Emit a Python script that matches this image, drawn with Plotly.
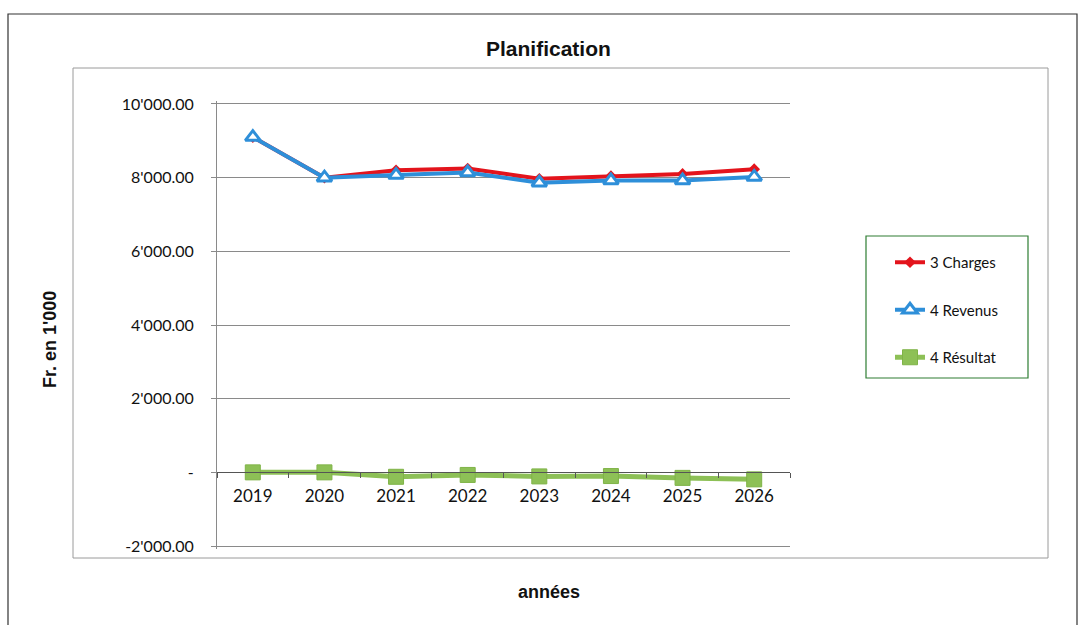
import plotly.graph_objects as go

years = ["2019", "2020", "2021", "2022", "2023", "2024", "2025", "2026"]
charges = [9100, 8000, 8200, 8245, 7970, 8040, 8100, 8230]
revenus = [9100, 8000, 8070, 8140, 7860, 7920, 7920, 8020]
resultat = [0, 0, -120, -70, -110, -100, -150, -190]

ytick_vals = [-2000, 0, 2000, 4000, 6000, 8000, 10000]
ytick_text = ["-2'000.00", "-", "2'000.00", "4'000.00", "6'000.00", "8'000.00", "10'000.00"]

W, H = 1079, 625
L, R, T, B = 217, 790, 101, 549  # plot area in pixels
YMIN, YMAX = -2080, 10080

def px(x):
    return (x - L) / (R - L)

def py(y):
    return (B - y) / (B - T)

fig = go.Figure()
fig.add_trace(go.Scatter(
    x=years, y=charges, name="3 Charges", mode="lines+markers",
    line=dict(color="#e3141c", width=4),
    marker=dict(symbol="diamond", size=9, color="#e3141c"),
    legendgroup="a",
))
fig.add_trace(go.Scatter(
    x=years, y=revenus, name="4 Revenus", mode="lines+markers",
    line=dict(color="#2e8fd9", width=4),
    marker=dict(symbol="triangle-up", size=13, color="white",
                line=dict(color="#2e8fd9", width=3)),
    legendgroup="b",
))
fig.add_trace(go.Scatter(
    x=years, y=resultat, name="4 Résultat", mode="lines+markers",
    line=dict(color="#8dc056", width=5),
    marker=dict(symbol="square", size=15, color="#8dc056",
                line=dict(color="#7fb347", width=1)),
    legendgroup="c",
))

shapes = [
    dict(type="rect", xref="paper", yref="paper",
         x0=px(8), x1=px(1077), y0=py(640), y1=py(14),
         line=dict(color="#333333", width=1.2), layer="below"),
    dict(type="rect", xref="paper", yref="paper",
         x0=px(73), x1=px(1048), y0=py(558), y1=py(68),
         line=dict(color="#9a9a9a", width=1), layer="below"),
    dict(type="rect", xref="paper", yref="paper",
         x0=px(866), x1=px(1028), y0=py(378), y1=py(236),
         line=dict(color="#2e7d32", width=1.2)),
]

annotations = [
    dict(text="<b>Planification</b>", xref="paper", yref="paper",
         x=px(548), y=py(49), xanchor="center", yanchor="middle", showarrow=False,
         font=dict(family="Liberation Sans", size=21, color="#111111")),
    dict(text="<b>Fr. en 1'000</b>", xref="paper", yref="paper",
         x=px(50), y=py(340), xanchor="center", yanchor="middle",
         showarrow=False, textangle=-90,
         font=dict(family="Liberation Sans", size=18, color="#111111")),
    dict(text="<b>années</b>", xref="paper", yref="paper",
         x=px(549), y=py(592), xanchor="center", yanchor="middle", showarrow=False,
         font=dict(family="Liberation Sans", size=18, color="#111111")),
]

fig.update_layout(
    width=W, height=H,
    margin=dict(l=L, r=W - R, t=T, b=H - B),
    paper_bgcolor="white", plot_bgcolor="white",
    showlegend=True,
    legend=dict(x=px(890), y=py(246), xanchor="left", yanchor="top",
                bgcolor="rgba(0,0,0,0)", borderwidth=0,
                tracegroupgap=25,
                font=dict(family="Lato", size=15, color="#111111")),
    shapes=shapes,
    annotations=annotations,
    font=dict(family="Lato", size=16, color="#111111"),
)

fig.update_yaxes(
    range=[YMIN, YMAX], tickvals=ytick_vals, ticktext=ytick_text,
    showgrid=True, gridcolor="#8a8a8a", gridwidth=1,
    showline=True, linecolor="#8a8a8a", linewidth=1,
    ticks="outside", ticklen=5, tickcolor="#8a8a8a",
    ticklabelstandoff=14,
    zeroline=False, domain=[0, 1],
    tickfont=dict(family="Lato", size=16, color="#111111"),
)
fig.update_xaxes(
    type="category", range=[-0.5, 7.5],
    anchor="free", position=(0 - YMIN) / (YMAX - YMIN),
    showline=True, linecolor="#555555", linewidth=1,
    ticks="outside", ticklen=5, tickcolor="#555555", tickson="boundaries",
    ticklabelstandoff=8,
    showgrid=False, zeroline=False,
    tickfont=dict(family="Lato", size=17, color="#111111"),
)

fig.write_html("out.html")
